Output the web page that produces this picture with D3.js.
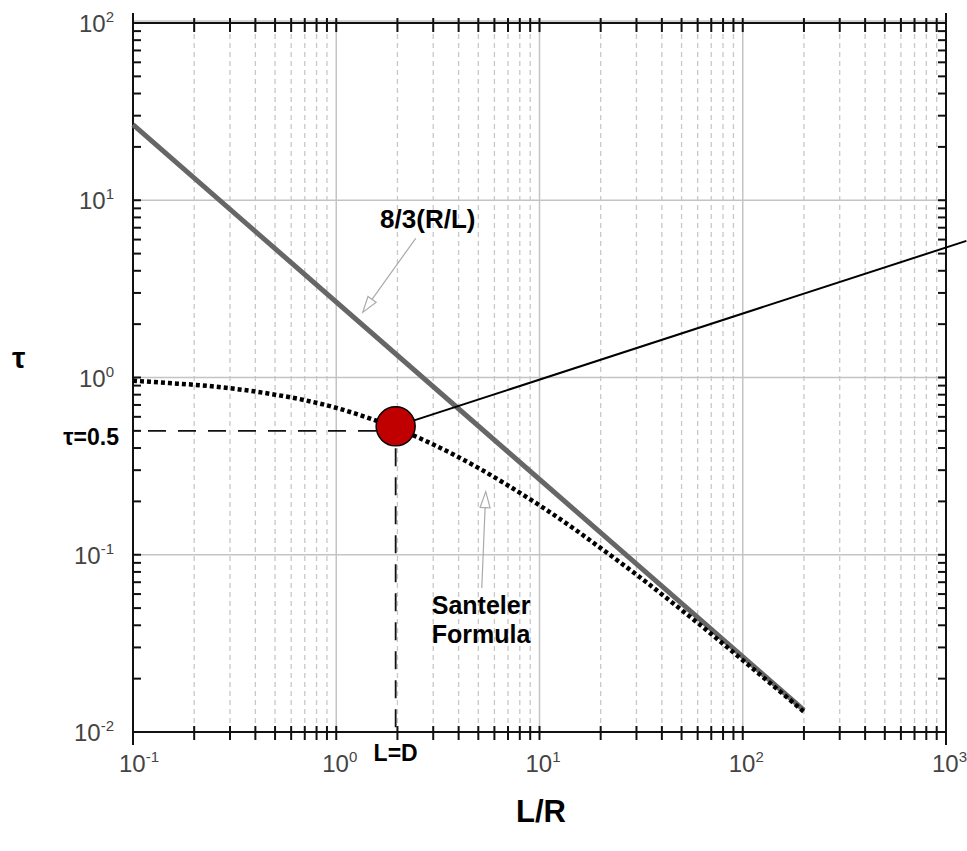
<!DOCTYPE html>
<html>
<head>
<meta charset="utf-8">
<script src="https://cdn.jsdelivr.net/npm/d3@7"></script>
<style>
  body { margin: 0; background: #fff; }
  text { font-family: "Liberation Sans", Arial, sans-serif; }
</style>
</head>
<body>
<svg id="chart" width="967" height="851"></svg>
<script>
// Santeler formula curve
const santelerLR  = [0.1, 0.15, 0.2, 0.3, 0.5, 0.7, 1, 1.5, 2, 3, 5, 7, 10, 15, 20, 30, 50, 70, 100, 150, 200];
const santelerTau = [0.96, 0.93, 0.91, 0.87, 0.80, 0.745, 0.674, 0.582, 0.514, 0.419, 0.309, 0.246, 0.190, 0.1385, 0.109, 0.0772, 0.0488, 0.0357, 0.0254, 0.0172, 0.0130];

// 8/3(R/L) asymptote
const limitLR  = [0.1, 200];
const limitTau = [26.7, 0.0133];

// L=D marker and leader line
const markLR  = 1.96;
const markTau = 0.53;
const halfTau = 0.5;
const leaderLR  = [1.96, 1260];
const leaderTau = [0.53, 5.9];

const xDecades = [-1, 0, 1, 2, 3];
const yDecades = [-2, -1, 0, 1, 2];

const svg = d3.select("#chart");
const margin = { top: 23, right: 21, bottom: 119, left: 133 };
const W = 967, H = 851;

const x = d3.scaleLog().domain([0.1, 1000]).range([margin.left, W - margin.right]);
const y = d3.scaleLog().domain([0.01, 100]).range([H - margin.bottom, margin.top]);
const x0 = x.range()[0], x1 = x.range()[1];
const y0 = y.range()[0], y1 = y.range()[1];

// minor values
const xMinor = [];
xDecades.slice(0, -1).forEach(e => { for (let m = 2; m <= 9; m++) xMinor.push(m * Math.pow(10, e)); });
const yMinor = [];
yDecades.slice(0, -1).forEach(e => { for (let m = 2; m <= 9; m++) yMinor.push(m * Math.pow(10, e)); });
const xMajor = xDecades.map(e => Math.pow(10, e));
const yMajor = yDecades.map(e => Math.pow(10, e));

// grid
const grid = svg.append("g");
grid.selectAll(".xminor").data(xMinor).join("line")
  .attr("x1", d => x(d)).attr("x2", d => x(d)).attr("y1", y0).attr("y2", y1)
  .attr("stroke", "#c8c8c8").attr("stroke-width", 1.3).attr("stroke-dasharray", "5,4");
grid.selectAll(".xmajor").data(xMajor).join("line")
  .attr("x1", d => x(d)).attr("x2", d => x(d)).attr("y1", y0).attr("y2", y1)
  .attr("stroke", "#c4c4c4").attr("stroke-width", 1.5);
grid.selectAll(".ymajor").data(yMajor).join("line")
  .attr("x1", x0).attr("x2", x1).attr("y1", d => y(d) - (d === 100 ? 2 : 0)).attr("y2", d => y(d) - (d === 100 ? 2 : 0))
  .attr("stroke", "#c4c4c4").attr("stroke-width", 1.5);

// frame
const frame = svg.append("g").attr("stroke", "#111").attr("stroke-width", 2);
frame.append("line").attr("x1", x0).attr("x2", x0).attr("y1", y1 - 10).attr("y2", y0 + 13);
frame.append("line").attr("x1", x1).attr("x2", x1).attr("y1", y1 - 10).attr("y2", y0 + 13);
frame.append("line").attr("x1", x0).attr("x2", x1).attr("y1", y1).attr("y2", y1);
frame.append("line").attr("x1", x0).attr("x2", x1).attr("y1", y0).attr("y2", y0);

// ticks
const ticks = svg.append("g").attr("stroke", "#111").attr("stroke-width", 2);
const xTickVals = xMinor.concat(xMajor.slice(1, -1));
ticks.selectAll(".tb").data(xTickVals).join("line")
  .attr("x1", d => x(d)).attr("x2", d => x(d)).attr("y1", y0 - 6).attr("y2", y0 + 8);
ticks.selectAll(".tt").data(xTickVals).join("line")
  .attr("x1", d => x(d)).attr("x2", d => x(d)).attr("y1", y1 - 5).attr("y2", y1 + 9);
const yTickVals = yMinor.concat(yMajor.slice(1, -1));
ticks.selectAll(".tl").data(yTickVals).join("line")
  .attr("x1", x0).attr("x2", x0 + 8).attr("y1", d => y(d)).attr("y2", d => y(d));
ticks.selectAll(".tr").data(yTickVals).join("line")
  .attr("x1", x1 - 8).attr("x2", x1).attr("y1", d => y(d)).attr("y2", d => y(d));

// tick labels
const labelColor = "#444";
xDecades.forEach(e => {
  const t = svg.append("text").attr("x", x(Math.pow(10, e)) - 14).attr("y", y0 + 40)
    .attr("fill", labelColor).attr("font-size", 24);
  t.append("tspan").text("10");
  t.append("tspan").attr("dy", -10).attr("font-size", 15).text(e);
});
yDecades.forEach(e => {
  const t = svg.append("text").attr("x", 114).attr("y", y(Math.pow(10, e)) + 9)
    .attr("text-anchor", "end").attr("fill", labelColor).attr("font-size", 24);
  t.append("tspan").text("10");
  t.append("tspan").attr("dy", -10).attr("font-size", 15).text(e);
});

// axis titles
svg.append("text").attr("x", 541).attr("y", 822).attr("text-anchor", "middle")
  .attr("font-size", 31).attr("font-weight", "bold").text("L/R");
svg.append("text").attr("x", 12).attr("y", 368)
  .attr("font-size", 30).attr("font-weight", "bold").text("τ");

// 8/3(R/L) line
const line = d3.line().x(d => x(d[0])).y(d => y(d[1]));
svg.append("path").datum(d3.zip(limitLR, limitTau)).attr("d", line)
  .attr("fill", "none").attr("stroke", "#666").attr("stroke-width", 5);

// Santeler curve
svg.append("path").datum(d3.zip(santelerLR, santelerTau))
  .attr("d", line.curve(d3.curveMonotoneX))
  .attr("fill", "none").attr("stroke", "#000").attr("stroke-width", 4.5)
  .attr("stroke-dasharray", "4,3");

// dashed reference lines
svg.append("line").attr("x1", x0 + 15).attr("x2", x(markLR)).attr("y1", y(halfTau)).attr("y2", y(halfTau))
  .attr("stroke", "#111").attr("stroke-width", 1.8).attr("stroke-dasharray", "18,12");
svg.append("line").attr("x1", x(markLR)).attr("x2", x(markLR)).attr("y1", y(markTau) + 22).attr("y2", y0)
  .attr("stroke", "#111").attr("stroke-width", 1.8).attr("stroke-dasharray", "18,11");

// leader line and marker
svg.append("path").datum(d3.zip(leaderLR, leaderTau)).attr("d", d3.line().x(d => x(d[0])).y(d => y(d[1])))
  .attr("stroke", "#000").attr("stroke-width", 2);
svg.append("circle").attr("cx", x(markLR)).attr("cy", y(markTau)).attr("r", 19.5)
  .attr("fill", "#c00000").attr("stroke", "#000").attr("stroke-width", 1.5);

// annotation labels
svg.append("text").attr("x", 119).attr("y", y(halfTau) + 14).attr("text-anchor", "end")
  .attr("font-size", 23).attr("font-weight", "bold").text("τ=0.5");
svg.append("text").attr("x", x(markLR)).attr("y", y0 + 29).attr("text-anchor", "middle")
  .attr("font-size", 23).attr("font-weight", "bold").text("L=D");
svg.append("text").attr("x", x(2.82)).attr("y", y(6.95)).attr("text-anchor", "middle")
  .attr("font-size", 26).attr("font-weight", "bold").text("8/3(R/L)");
svg.append("text").attr("x", x(2.95)).attr("y", y(0.0464))
  .attr("font-size", 25).attr("font-weight", "bold").text("Santeler");
svg.append("text").attr("x", x(2.95)).attr("y", y(0.0318))
  .attr("font-size", 25).attr("font-weight", "bold").text("Formula");

// thin arrows
function arrow(from, to) {
  const ax = x(from[0]), ay = y(from[1]), bx = x(to[0]), by = y(to[1]);
  const ang = Math.atan2(by - ay, bx - ax);
  const len = 16, half = 5;
  const cx = bx - len * Math.cos(ang), cy = by - len * Math.sin(ang);
  svg.append("line").attr("x1", ax).attr("y1", ay).attr("x2", cx).attr("y2", cy)
    .attr("stroke", "#aaa").attr("stroke-width", 1.2);
  const p = [
    [bx, by],
    [cx + half * Math.sin(ang), cy - half * Math.cos(ang)],
    [cx - half * Math.sin(ang), cy + half * Math.cos(ang)]
  ];
  svg.append("path").attr("d", "M" + p.map(q => q.join(",")).join("L") + "Z")
    .attr("fill", "#fff").attr("stroke", "#aaa").attr("stroke-width", 1.2);
}
arrow([2.46, 6.1], [1.35, 2.33]);
arrow([5.2, 0.065], [5.44, 0.227]);
</script>
</body>
</html>
